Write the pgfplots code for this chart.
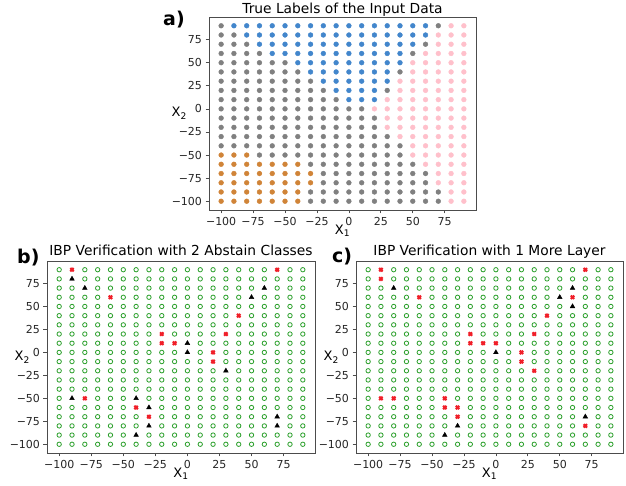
\documentclass[border=0pt]{standalone}
\usepackage{pgfplots}
\pgfplotsset{compat=1.18}
\usepackage{fontspec}
\setmainfont{DejaVu Sans}

\definecolor{cgray}{RGB}{128,128,128}
\definecolor{cblue}{RGB}{66,134,204}
\definecolor{cpink}{RGB}{255,192,203}
\definecolor{corange}{RGB}{208,132,56}
\definecolor{cgreen}{RGB}{44,160,44}
\definecolor{cred}{RGB}{240,30,40}

\pgfplotsset{
  panel/.style={
    scale only axis,
    xmin=-109.5, xmax=99.5, ymin=-109.5, ymax=99.5,
    xtick={-100,-75,-50,-25,0,25,50,75},
    ytick={-100,-75,-50,-25,0,25,50,75},
    xticklabels={−100,−75,−50,−25,0,25,50,75},
    yticklabels={−100,−75,−50,−25,0,25,50,75},
    tick label style={font=\fontsize{11}{13}\selectfont, black!85},
    tick align=outside, major tick length=3.5pt,
    xtick pos=bottom, ytick pos=left,
    axis line style={black!70, line width=0.7pt},
    tick style={black!70, line width=0.7pt},
    xlabel={X\textsubscript{1}}, ylabel={X\textsubscript{2}},
    label style={font=\fontsize{13}{15}\selectfont, inner sep=0pt},
    xlabel style={at={(rel axis cs:0.5,0)}, anchor=north, yshift=-14.5pt},
    ylabel style={rotate=-90, at={(rel axis cs:0,0.5)}, anchor=east, xshift=-17pt},
    title style={font=\fontsize{13.8}{16}\selectfont, inner sep=0pt, at={(0.5,1)}, anchor=base, yshift=-1pt},
    clip=false,
  },
  dot/.style={only marks, mark=*, mark size=2.4pt, #1, mark options={fill=#1, draw=#1}},
  ok/.style={only marks, mark=o, mark size=2.2pt, cgreen, mark options={line width=0.8pt}},
  bad/.style={only marks, mark=x, mark size=2.4pt, cred, mark options={line width=2.1pt}},
  abst/.style={only marks, mark=triangle*, mark size=2.7pt, black},
}

\begin{document}
\begin{tikzpicture}
\fill[white] (0,0) rectangle (626pt,486pt);
\path[use as bounding box] (0,0) rectangle (626pt,486pt);

% a) true labels
\begin{axis}[panel, name=axa, at={(209pt,276pt)}, width=267pt, height=193pt,
  title={True Labels of the Input Data}, title style={yshift=-2pt},
  ylabel style={xshift=-5pt}]
\addplot[dot=cgray] coordinates {
(-100,90) (70,90)
(-100,80) (-90,80)
(-100,70) (-90,70) (-80,70) (60,70)
(-100,60) (-90,60) (-80,60) (-70,60) (50,60)
(-100,50) (-90,50) (-80,50) (-70,50) (-60,50) (-50,50)
(-100,40) (-90,40) (-80,40) (-70,40) (-60,40) (-50,40) (-40,40) (40,40)
(-100,30) (-90,30) (-80,30) (-70,30) (-60,30) (-50,30) (-40,30) (-30,30)
(-100,20) (-90,20) (-80,20) (-70,20) (-60,20) (-50,20) (-40,20) (-30,20) (-20,20) (30,20)
(-100,10) (-90,10) (-80,10) (-70,10) (-60,10) (-50,10) (-40,10) (-30,10) (-20,10) (-10,10)
(-100,0) (-90,0) (-80,0) (-70,0) (-60,0) (-50,0) (-40,0) (-30,0) (-20,0) (-10,0) (0,0) (10,0)
(-100,-10) (-90,-10) (-80,-10) (-70,-10) (-60,-10) (-50,-10) (-40,-10) (-30,-10) (-20,-10) (-10,-10) (0,-10) (10,-10) (20,-10)
(-100,-20) (-90,-20) (-80,-20) (-70,-20) (-60,-20) (-50,-20) (-40,-20) (-30,-20) (-20,-20) (-10,-20) (0,-20) (10,-20) (20,-20)
(-100,-30) (-90,-30) (-80,-30) (-70,-30) (-60,-30) (-50,-30) (-40,-30) (-30,-30) (-20,-30) (-10,-30) (0,-30) (10,-30) (20,-30) (30,-30)
(-100,-40) (-90,-40) (-80,-40) (-70,-40) (-60,-40) (-50,-40) (-40,-40) (-30,-40) (-20,-40) (-10,-40) (0,-40) (10,-40) (20,-40) (30,-40) (40,-40)
(-70,-50) (-60,-50) (-50,-50) (-40,-50) (-30,-50) (-20,-50) (-10,-50) (0,-50) (10,-50) (20,-50) (30,-50) (40,-50)
(-30,-60) (-20,-60) (-10,-60) (0,-60) (10,-60) (20,-60) (30,-60) (40,-60) (50,-60)
(-20,-70) (-10,-70) (0,-70) (10,-70) (20,-70) (30,-70) (40,-70) (50,-70) (60,-70)
(-20,-80) (-10,-80) (0,-80) (10,-80) (20,-80) (30,-80) (40,-80) (50,-80) (60,-80)
(-30,-90) (-20,-90) (-10,-90) (0,-90) (10,-90) (20,-90) (30,-90) (40,-90) (50,-90) (60,-90) (70,-90)
(-30,-100) (-20,-100) (-10,-100) (0,-100) (10,-100) (20,-100) (30,-100) (40,-100) (50,-100) (60,-100) (70,-100)
};
\addplot[dot=cblue] coordinates {
(-90,90) (-80,90) (-70,90) (-60,90) (-50,90) (-40,90) (-30,90) (-20,90) (-10,90) (0,90) (10,90) (20,90) (30,90) (40,90) (50,90) (60,90)
(-80,80) (-70,80) (-60,80) (-50,80) (-40,80) (-30,80) (-20,80) (-10,80) (0,80) (10,80) (20,80) (30,80) (40,80) (50,80) (60,80)
(-70,70) (-60,70) (-50,70) (-40,70) (-30,70) (-20,70) (-10,70) (0,70) (10,70) (20,70) (30,70) (40,70) (50,70)
(-60,60) (-50,60) (-40,60) (-30,60) (-20,60) (-10,60) (0,60) (10,60) (20,60) (30,60) (40,60)
(-40,50) (-30,50) (-20,50) (-10,50) (0,50) (10,50) (20,50) (30,50) (40,50)
(-30,40) (-20,40) (-10,40) (0,40) (10,40) (20,40) (30,40)
(-20,30) (-10,30) (0,30) (10,30) (20,30) (30,30)
(-10,20) (0,20) (10,20) (20,20)
(0,10) (10,10) (20,10)
};
\addplot[dot=cpink] coordinates {
(80,90) (90,90)
(70,80) (80,80) (90,80)
(70,70) (80,70) (90,70)
(60,60) (70,60) (80,60) (90,60)
(50,50) (60,50) (70,50) (80,50) (90,50)
(50,40) (60,40) (70,40) (80,40) (90,40)
(40,30) (50,30) (60,30) (70,30) (80,30) (90,30)
(40,20) (50,20) (60,20) (70,20) (80,20) (90,20)
(30,10) (40,10) (50,10) (60,10) (70,10) (80,10) (90,10)
(20,0) (30,0) (40,0) (50,0) (60,0) (70,0) (80,0) (90,0)
(30,-10) (40,-10) (50,-10) (60,-10) (70,-10) (80,-10) (90,-10)
(30,-20) (40,-20) (50,-20) (60,-20) (70,-20) (80,-20) (90,-20)
(40,-30) (50,-30) (60,-30) (70,-30) (80,-30) (90,-30)
(50,-40) (60,-40) (70,-40) (80,-40) (90,-40)
(50,-50) (60,-50) (70,-50) (80,-50) (90,-50)
(60,-60) (70,-60) (80,-60) (90,-60)
(70,-70) (80,-70) (90,-70)
(70,-80) (80,-80) (90,-80)
(80,-90) (90,-90)
(80,-100) (90,-100)
};
\addplot[dot=corange] coordinates {
(-100,-50) (-90,-50) (-80,-50)
(-100,-60) (-90,-60) (-80,-60) (-70,-60) (-60,-60) (-50,-60) (-40,-60)
(-100,-70) (-90,-70) (-80,-70) (-70,-70) (-60,-70) (-50,-70) (-40,-70) (-30,-70)
(-100,-80) (-90,-80) (-80,-80) (-70,-80) (-60,-80) (-50,-80) (-40,-80) (-30,-80)
(-100,-90) (-90,-90) (-80,-90) (-70,-90) (-60,-90) (-50,-90) (-40,-90)
(-100,-100) (-90,-100) (-80,-100) (-70,-100) (-60,-100) (-50,-100) (-40,-100)
};
\end{axis}
\node[anchor=base west, font=\bfseries\fontsize{19}{22}\selectfont, inner sep=0pt] at ([xshift=-46pt,yshift=-9pt]axa.north west) {a)};

% b) IBP with 2 abstain classes
\begin{axis}[panel, name=axb, at={(47pt,33pt)}, width=268pt, height=192pt,
  title={IBP Verification with 2 Abstain Classes}]
\addplot[ok] coordinates {
(-100,90) (-80,90) (-70,90) (-60,90) (-50,90) (-40,90) (-30,90) (-20,90) (-10,90) (0,90) (10,90) (20,90) (30,90) (40,90) (50,90) (60,90) (80,90) (90,90)
(-100,80) (-80,80) (-70,80) (-60,80) (-50,80) (-40,80) (-30,80) (-20,80) (-10,80) (0,80) (10,80) (20,80) (30,80) (40,80) (50,80) (60,80) (70,80) (80,80) (90,80)
(-100,70) (-90,70) (-70,70) (-60,70) (-50,70) (-40,70) (-30,70) (-20,70) (-10,70) (0,70) (10,70) (20,70) (30,70) (40,70) (50,70) (70,70) (80,70) (90,70)
(-100,60) (-90,60) (-80,60) (-70,60) (-50,60) (-40,60) (-30,60) (-20,60) (-10,60) (0,60) (10,60) (20,60) (30,60) (40,60) (60,60) (70,60) (80,60) (90,60)
(-100,50) (-90,50) (-80,50) (-70,50) (-60,50) (-50,50) (-40,50) (-30,50) (-20,50) (-10,50) (0,50) (10,50) (20,50) (30,50) (40,50) (50,50) (60,50) (70,50) (80,50) (90,50)
(-100,40) (-90,40) (-80,40) (-70,40) (-60,40) (-50,40) (-40,40) (-30,40) (-20,40) (-10,40) (0,40) (10,40) (20,40) (30,40) (50,40) (60,40) (70,40) (80,40) (90,40)
(-100,30) (-90,30) (-80,30) (-70,30) (-60,30) (-50,30) (-40,30) (-30,30) (-20,30) (-10,30) (0,30) (10,30) (20,30) (30,30) (40,30) (50,30) (60,30) (70,30) (80,30) (90,30)
(-100,20) (-90,20) (-80,20) (-70,20) (-60,20) (-50,20) (-40,20) (-30,20) (-10,20) (0,20) (10,20) (20,20) (40,20) (50,20) (60,20) (70,20) (80,20) (90,20)
(-100,10) (-90,10) (-80,10) (-70,10) (-60,10) (-50,10) (-40,10) (-30,10) (10,10) (20,10) (30,10) (40,10) (50,10) (60,10) (70,10) (80,10) (90,10)
(-100,0) (-90,0) (-80,0) (-70,0) (-60,0) (-50,0) (-40,0) (-30,0) (-20,0) (-10,0) (10,0) (30,0) (40,0) (50,0) (60,0) (70,0) (80,0) (90,0)
(-100,-10) (-90,-10) (-80,-10) (-70,-10) (-60,-10) (-50,-10) (-40,-10) (-30,-10) (-20,-10) (-10,-10) (0,-10) (10,-10) (30,-10) (40,-10) (50,-10) (60,-10) (70,-10) (80,-10) (90,-10)
(-100,-20) (-90,-20) (-80,-20) (-70,-20) (-60,-20) (-50,-20) (-40,-20) (-30,-20) (-20,-20) (-10,-20) (0,-20) (10,-20) (20,-20) (40,-20) (50,-20) (60,-20) (70,-20) (80,-20) (90,-20)
(-100,-30) (-90,-30) (-80,-30) (-70,-30) (-60,-30) (-50,-30) (-40,-30) (-30,-30) (-20,-30) (-10,-30) (0,-30) (10,-30) (20,-30) (30,-30) (40,-30) (50,-30) (60,-30) (70,-30) (80,-30) (90,-30)
(-100,-40) (-90,-40) (-80,-40) (-70,-40) (-60,-40) (-50,-40) (-40,-40) (-30,-40) (-20,-40) (-10,-40) (0,-40) (10,-40) (20,-40) (30,-40) (40,-40) (50,-40) (60,-40) (70,-40) (80,-40) (90,-40)
(-100,-50) (-70,-50) (-60,-50) (-50,-50) (-30,-50) (-20,-50) (-10,-50) (0,-50) (10,-50) (20,-50) (30,-50) (40,-50) (50,-50) (60,-50) (70,-50) (80,-50) (90,-50)
(-100,-60) (-90,-60) (-80,-60) (-70,-60) (-60,-60) (-50,-60) (-20,-60) (-10,-60) (0,-60) (10,-60) (20,-60) (30,-60) (40,-60) (50,-60) (60,-60) (70,-60) (80,-60) (90,-60)
(-100,-70) (-90,-70) (-80,-70) (-70,-70) (-60,-70) (-50,-70) (-40,-70) (-20,-70) (-10,-70) (0,-70) (10,-70) (20,-70) (30,-70) (40,-70) (50,-70) (60,-70) (80,-70) (90,-70)
(-100,-80) (-90,-80) (-80,-80) (-70,-80) (-60,-80) (-50,-80) (-40,-80) (-20,-80) (-10,-80) (0,-80) (10,-80) (20,-80) (30,-80) (40,-80) (50,-80) (60,-80) (80,-80) (90,-80)
(-100,-90) (-90,-90) (-80,-90) (-70,-90) (-60,-90) (-50,-90) (-30,-90) (-20,-90) (-10,-90) (0,-90) (10,-90) (20,-90) (30,-90) (40,-90) (50,-90) (60,-90) (70,-90) (80,-90) (90,-90)
(-100,-100) (-90,-100) (-80,-100) (-70,-100) (-60,-100) (-50,-100) (-40,-100) (-30,-100) (-20,-100) (-10,-100) (0,-100) (10,-100) (20,-100) (30,-100) (40,-100) (50,-100) (60,-100) (70,-100) (80,-100) (90,-100)
};
\addplot[bad] coordinates {
(-90,90) (70,90) (-60,60) (40,40) (-20,20) (30,20) (-20,10) (-10,10)
(20,0) (20,-10) (-80,-50) (-40,-60) (-30,-70)
};
\addplot[abst] coordinates {
(-90,80) (-80,70) (60,70) (50,60) (0,10) (0,0) (30,-20)
(-90,-50) (-40,-50) (-30,-60) (-30,-80) (-40,-90) (70,-70) (70,-80)
};
\end{axis}
\node[anchor=base west, font=\bfseries\fontsize{19}{22}\selectfont, inner sep=0pt] at ([xshift=-30pt,yshift=-3pt]axb.north west) {b)};

% c) IBP with one more layer
\begin{axis}[panel, name=axc, at={(356pt,33pt)}, width=267pt, height=192pt,
  title={IBP Verification with 1 More Layer}]
\addplot[ok] coordinates {
(-100,90) (-80,90) (-70,90) (-60,90) (-50,90) (-40,90) (-30,90) (-20,90) (-10,90) (0,90) (10,90) (20,90) (30,90) (40,90) (50,90) (60,90) (80,90) (90,90)
(-100,80) (-80,80) (-70,80) (-60,80) (-50,80) (-40,80) (-30,80) (-20,80) (-10,80) (0,80) (10,80) (20,80) (30,80) (40,80) (50,80) (60,80) (70,80) (80,80) (90,80)
(-100,70) (-90,70) (-70,70) (-60,70) (-50,70) (-40,70) (-30,70) (-20,70) (-10,70) (0,70) (10,70) (20,70) (30,70) (40,70) (50,70) (70,70) (80,70) (90,70)
(-100,60) (-90,60) (-80,60) (-70,60) (-50,60) (-40,60) (-30,60) (-20,60) (-10,60) (0,60) (10,60) (20,60) (30,60) (40,60) (70,60) (80,60) (90,60)
(-100,50) (-90,50) (-80,50) (-70,50) (-60,50) (-50,50) (-40,50) (-30,50) (-20,50) (-10,50) (0,50) (10,50) (20,50) (30,50) (40,50) (50,50) (70,50) (80,50) (90,50)
(-100,40) (-90,40) (-80,40) (-70,40) (-60,40) (-50,40) (-40,40) (-30,40) (-20,40) (-10,40) (0,40) (10,40) (20,40) (30,40) (50,40) (60,40) (70,40) (80,40) (90,40)
(-100,30) (-90,30) (-80,30) (-70,30) (-60,30) (-50,30) (-40,30) (-30,30) (-20,30) (-10,30) (0,30) (10,30) (20,30) (30,30) (40,30) (50,30) (60,30) (70,30) (80,30) (90,30)
(-100,20) (-90,20) (-80,20) (-70,20) (-60,20) (-50,20) (-40,20) (-30,20) (-10,20) (0,20) (10,20) (20,20) (40,20) (50,20) (60,20) (70,20) (80,20) (90,20)
(-100,10) (-90,10) (-80,10) (-70,10) (-60,10) (-50,10) (-40,10) (-30,10) (10,10) (20,10) (30,10) (40,10) (50,10) (60,10) (70,10) (80,10) (90,10)
(-100,0) (-90,0) (-80,0) (-70,0) (-60,0) (-50,0) (-40,0) (-30,0) (-20,0) (-10,0) (10,0) (30,0) (40,0) (50,0) (60,0) (70,0) (80,0) (90,0)
(-100,-10) (-90,-10) (-80,-10) (-70,-10) (-60,-10) (-50,-10) (-40,-10) (-30,-10) (-20,-10) (-10,-10) (0,-10) (10,-10) (30,-10) (40,-10) (50,-10) (60,-10) (70,-10) (80,-10) (90,-10)
(-100,-20) (-90,-20) (-80,-20) (-70,-20) (-60,-20) (-50,-20) (-40,-20) (-30,-20) (-20,-20) (-10,-20) (0,-20) (10,-20) (20,-20) (40,-20) (50,-20) (60,-20) (70,-20) (80,-20) (90,-20)
(-100,-30) (-90,-30) (-80,-30) (-70,-30) (-60,-30) (-50,-30) (-40,-30) (-30,-30) (-20,-30) (-10,-30) (0,-30) (10,-30) (20,-30) (30,-30) (40,-30) (50,-30) (60,-30) (70,-30) (80,-30) (90,-30)
(-100,-40) (-90,-40) (-80,-40) (-70,-40) (-60,-40) (-50,-40) (-40,-40) (-30,-40) (-20,-40) (-10,-40) (0,-40) (10,-40) (20,-40) (30,-40) (40,-40) (50,-40) (60,-40) (70,-40) (80,-40) (90,-40)
(-100,-50) (-70,-50) (-60,-50) (-50,-50) (-30,-50) (-20,-50) (-10,-50) (0,-50) (10,-50) (20,-50) (30,-50) (40,-50) (50,-50) (60,-50) (70,-50) (80,-50) (90,-50)
(-100,-60) (-90,-60) (-80,-60) (-70,-60) (-60,-60) (-50,-60) (-20,-60) (-10,-60) (0,-60) (10,-60) (20,-60) (30,-60) (40,-60) (50,-60) (60,-60) (70,-60) (80,-60) (90,-60)
(-100,-70) (-90,-70) (-80,-70) (-70,-70) (-60,-70) (-50,-70) (-40,-70) (-20,-70) (-10,-70) (0,-70) (10,-70) (20,-70) (30,-70) (40,-70) (50,-70) (60,-70) (80,-70) (90,-70)
(-100,-80) (-90,-80) (-80,-80) (-70,-80) (-60,-80) (-50,-80) (-40,-80) (-20,-80) (-10,-80) (0,-80) (10,-80) (20,-80) (30,-80) (40,-80) (50,-80) (60,-80) (80,-80) (90,-80)
(-100,-90) (-90,-90) (-80,-90) (-70,-90) (-60,-90) (-50,-90) (-30,-90) (-20,-90) (-10,-90) (0,-90) (10,-90) (20,-90) (30,-90) (40,-90) (50,-90) (60,-90) (70,-90) (80,-90) (90,-90)
(-100,-100) (-90,-100) (-80,-100) (-70,-100) (-60,-100) (-50,-100) (-40,-100) (-30,-100) (-20,-100) (-10,-100) (0,-100) (10,-100) (20,-100) (30,-100) (40,-100) (50,-100) (60,-100) (70,-100) (80,-100) (90,-100)
};
\addplot[bad] coordinates {
(-90,90) (70,90) (-90,80) (-60,60) (60,60) (40,40) (-20,20) (30,20) (-20,10) (-10,10) (0,10)
(20,0) (20,-10) (30,-20) (-90,-50) (-80,-50) (-40,-50) (-40,-60) (-30,-60) (-30,-70) (70,-80)
};
\addplot[abst] coordinates {
(-80,70) (60,70) (50,60) (60,50) (0,0) (-30,-80) (-40,-90) (70,-70)
};
\end{axis}
\node[anchor=base west, font=\bfseries\fontsize{19}{22}\selectfont, inner sep=0pt] at ([xshift=-24pt,yshift=-2pt]axc.north west) {c)};
\end{tikzpicture}
\end{document}
